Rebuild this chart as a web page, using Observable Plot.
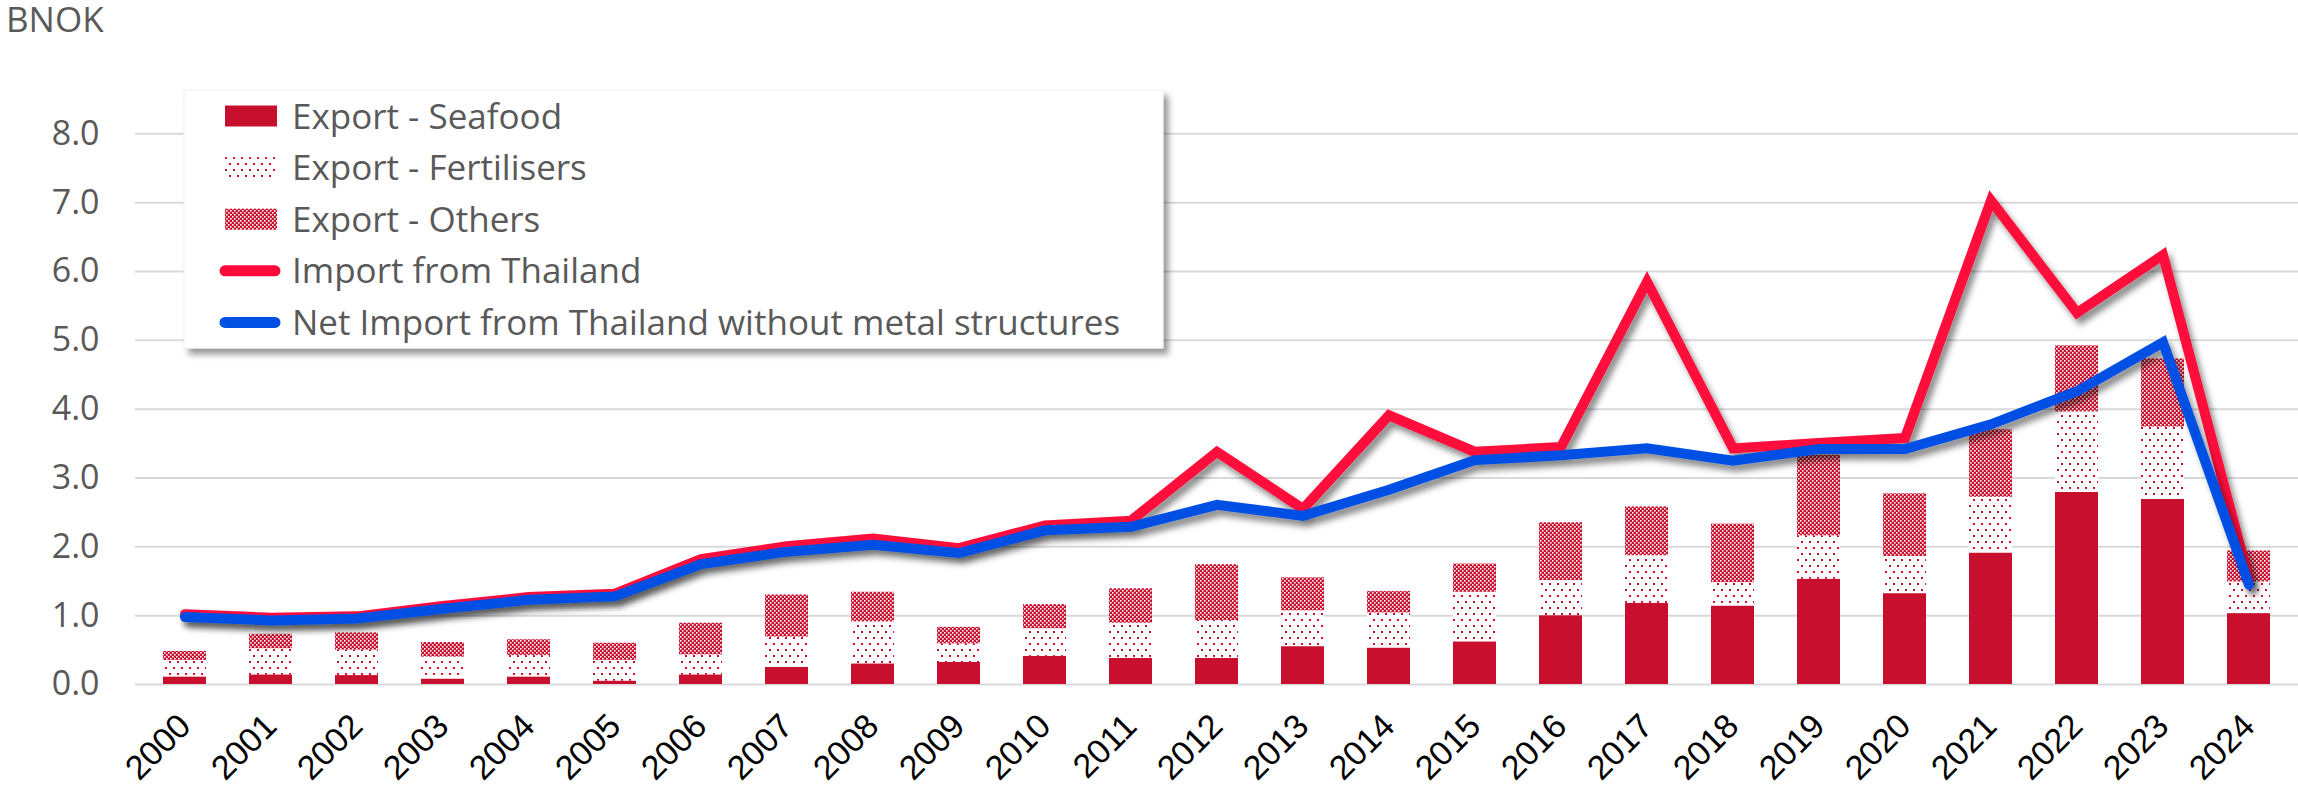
<!DOCTYPE html>
<html>
<head>
<meta charset="utf-8">
<script src="https://cdn.jsdelivr.net/npm/d3@7"></script>
<script src="https://cdn.jsdelivr.net/npm/@observablehq/plot@0.6"></script>
<style>
  html, body { margin: 0; padding: 0; background: #fff; }
  #chart { position: relative; width: 2298px; height: 791px; }
</style>
</head>
<body>
<div id="chart"></div>
<script>
// ---- data (BNOK) ----
const years = ["2000","2001","2002","2003","2004","2005","2006","2007","2008","2009","2010","2011","2012","2013","2014","2015","2016","2017","2018","2019","2020","2021","2022","2023","2024"];
const exportSeafood = [0.11,0.14,0.13,0.08,0.11,0.05,0.14,0.25,0.30,0.32,0.41,0.38,0.38,0.55,0.53,0.62,1.00,1.18,1.14,1.53,1.32,1.91,2.79,2.69,1.03];
const exportFertilisers = [0.24,0.38,0.37,0.32,0.31,0.30,0.29,0.44,0.61,0.27,0.40,0.51,0.55,0.52,0.51,0.72,0.51,0.69,0.34,0.63,0.54,0.81,1.17,1.05,0.46];
const exportOthers = [0.13,0.21,0.25,0.21,0.23,0.25,0.46,0.61,0.43,0.24,0.35,0.50,0.81,0.48,0.31,0.41,0.84,0.71,0.85,1.17,0.91,0.98,0.96,0.99,0.45];
const importThailand = [1.02,0.97,0.99,1.14,1.27,1.32,1.82,2.01,2.12,1.98,2.31,2.38,3.38,2.55,3.91,3.38,3.45,5.85,3.43,3.51,3.58,7.03,5.40,6.24,1.52];
const netImportNoMetal = [0.98,0.93,0.96,1.10,1.23,1.28,1.75,1.93,2.03,1.91,2.24,2.29,2.61,2.45,2.83,3.26,3.33,3.43,3.25,3.42,3.42,3.78,4.26,4.97,1.45];
const yTicks = [0,1,2,3,4,5,6,7,8];
const seriesNames = ["Export - Seafood","Export - Fertilisers","Export - Others","Import from Thailand","Net Import from Thailand without metal structures"];
const unitLabel = "BNOK";

const rows = years.map((year, i) => ({
  year,
  seafood: exportSeafood[i],
  fert: exportFertilisers[i],
  others: exportOthers[i],
  imp: importThailand[i],
  net: netImportNoMetal[i]
}));

const barRed = "#c8102e";
const lineRed = "#ff0a3a";
const lineBlue = "#0050e4";
const textGray = "#595959";

const plot = Plot.plot({
  width: 2298,
  height: 791,
  marginLeft: 135,
  marginRight: 0,
  marginTop: 133.3,
  marginBottom: 107,
  style: { fontFamily: "'Open Sans', sans-serif", background: "white" },
  x: { type: "band", domain: years, paddingInner: 0.5, paddingOuter: 0.25 },
  y: { domain: [0, 8] },
  marks: [
    Plot.gridY(yTicks, { stroke: "#d9d9d9", strokeOpacity: 1, strokeWidth: 2 }),
    Plot.barY(rows, { x: "year", y1: 0, y2: "seafood", fill: barRed }),
    Plot.barY(rows, { x: "year", y1: "seafood", y2: d => d.seafood + d.fert, fill: "url(#patFert)" }),
    Plot.barY(rows, { x: "year", y1: d => d.seafood + d.fert, y2: d => d.seafood + d.fert + d.others, fill: "url(#patOthers)" }),
    Plot.lineY(rows, { x: "year", y: "imp", stroke: lineRed, strokeWidth: 10, strokeLinejoin: "miter", strokeMiterlimit: 10, strokeLinecap: "round" }),
    Plot.lineY(rows, { x: "year", y: "net", stroke: lineBlue, strokeWidth: 10, strokeLinejoin: "miter", strokeMiterlimit: 10, strokeLinecap: "round" }),
    Plot.axisY(yTicks, { tickSize: 0, tickPadding: 36, fontSize: 34, fontFamily: "'Open Sans', sans-serif", color: textGray, tickFormat: d3.format(".1f"), label: null }),
    Plot.axisX({ tickSize: 0, tickRotate: -45, tickPadding: 36, fontSize: 34, fontFamily: "'Liberation Sans', sans-serif", color: "#000", label: null })
  ]
});

const svg = d3.select(plot);
const defs = svg.insert("defs", ":first-child");

// Fertilisers: sparse red dots on white
const pf = defs.append("pattern").attr("id", "patFert").attr("patternUnits", "userSpaceOnUse").attr("width", 8).attr("height", 12);
pf.append("rect").attr("width", 8).attr("height", 12).attr("fill", "white");
pf.append("rect").attr("x", 1).attr("y", 1).attr("width", 2).attr("height", 2).attr("fill", barRed);
pf.append("rect").attr("x", 5).attr("y", 7).attr("width", 2).attr("height", 2).attr("fill", barRed);

// Others: dense red with small white holes
const po = defs.append("pattern").attr("id", "patOthers").attr("patternUnits", "userSpaceOnUse").attr("width", 4).attr("height", 4);
po.append("rect").attr("width", 4).attr("height", 4).attr("fill", barRed);
po.append("rect").attr("x", 0).attr("y", 0).attr("width", 1.6).attr("height", 1.6).attr("fill", "white");
po.append("rect").attr("x", 2).attr("y", 2).attr("width", 1.6).attr("height", 1.6).attr("fill", "white");

const fl = defs.append("filter").attr("id", "lineShadow").attr("x", "-10%").attr("y", "-10%").attr("width", "130%").attr("height", "130%");
fl.append("feDropShadow").attr("dx", 4).attr("dy", 6).attr("stdDeviation", 3).attr("flood-color", "#000").attr("flood-opacity", 0.45);

const fb = defs.append("filter").attr("id", "boxShadow").attr("x", "-5%").attr("y", "-10%").attr("width", "115%").attr("height", "130%");
fb.append("feDropShadow").attr("dx", 5).attr("dy", 6).attr("stdDeviation", 3).attr("flood-color", "#000").attr("flood-opacity", 0.4);

svg.selectAll('g[aria-label="line"]').attr("filter", "url(#lineShadow)");

// unit label
svg.append("text").attr("x", 6).attr("y", 32).attr("fill", textGray).attr("text-anchor", "start")
  .attr("font-size", 35).attr("font-family", "'Open Sans', sans-serif").text(unitLabel);

// legend
const lg = svg.append("g").attr("class", "legend").attr("text-anchor", "start");
lg.append("rect").attr("x", 184).attr("y", 90).attr("width", 979).attr("height", 258)
  .attr("fill", "white").attr("stroke", "#f0f0f0").attr("filter", "url(#boxShadow)");
const rowY = [116, 167.6, 219.2, 270.8, 322.4];
const swFill = [barRed, "url(#patFert)", "url(#patOthers)"];
const swLine = [lineRed, lineBlue];
seriesNames.forEach((name, i) => {
  const cy = rowY[i];
  if (i < 3) {
    lg.append("rect").attr("x", 225).attr("y", cy - 10.5).attr("width", 52).attr("height", 21).attr("fill", swFill[i]);
  } else {
    lg.append("line").attr("x1", 225).attr("x2", 275).attr("y1", cy).attr("y2", cy)
      .attr("stroke", swLine[i - 3]).attr("stroke-width", 11).attr("stroke-linecap", "round");
  }
  lg.append("text").attr("x", 292).attr("y", cy).attr("dy", "0.36em").attr("fill", textGray).attr("text-anchor", "start")
    .attr("font-size", 35).attr("font-family", "'Open Sans', sans-serif").text(name);
});

document.getElementById("chart").appendChild(plot);
</script>
</body>
</html>
